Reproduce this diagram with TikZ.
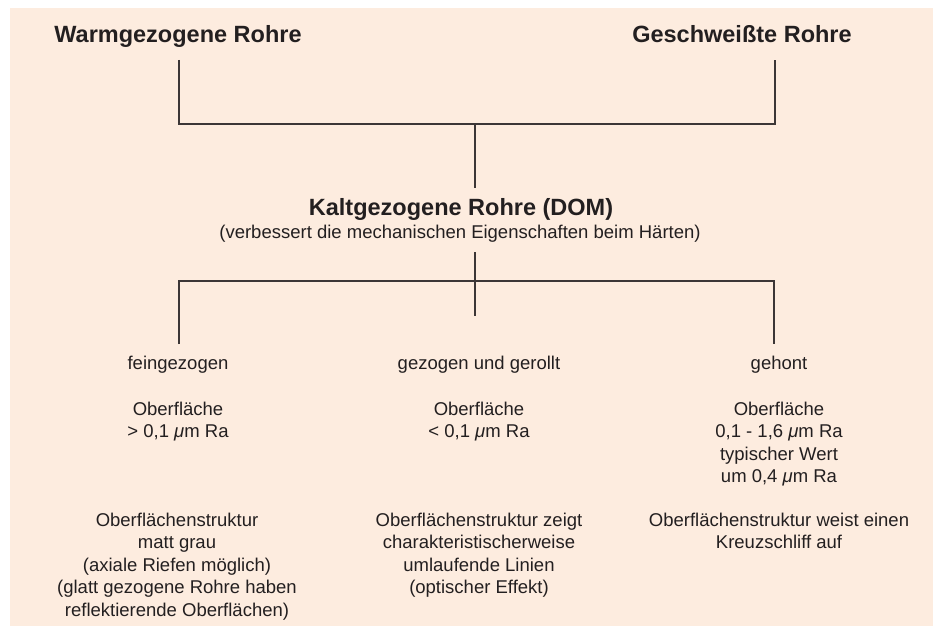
\documentclass[tikz,border=0pt]{standalone}
\usepackage{fontspec}
\setmainfont{Liberation Sans}
\definecolor{bgpeach}{RGB}{253,236,223}
\definecolor{inkc}{RGB}{35,31,32}
\definecolor{linec}{RGB}{60,54,54}
\begin{document}
\begin{tikzpicture}[x=1pt,y=1pt,
  title/.style={font=\fontsize{23.5}{28}\selectfont\bfseries, text=inkc, inner sep=0, anchor=base},
  label/.style={font=\fontsize{18.5}{22.5}\selectfont, text=inkc, inner sep=0, anchor=base},
  block/.style={font=\fontsize{18.5}{22.5}\selectfont, text=inkc, inner sep=0, anchor=north, align=center},
  conn/.style={draw=linec, line width=1.2pt}]
\useasboundingbox (0,0) rectangle (937,-626);
\fill[bgpeach] (10,-8) rectangle (933,-626);

\node[title] (warm) at (178,-43) {Warmgezogene Rohre};
\node[title] (gesch) at (742,-43) {Geschweißte Rohre};
\node[title] (kalt) at (461,-215) {Kaltgezogene Rohre (DOM)};
\node[label] (verb) at (460,-238) {(verbessert die mechanischen Eigenschaften beim Härten)};

\coordinate (wt) at (179,-60);
\coordinate (wb) at (179,-124);
\coordinate (gt) at (775,-60);
\coordinate (gb) at (775,-124);
\coordinate (mt) at (475,-124);
\coordinate (mb) at (475,-188);
\draw[conn] (wt) -- (wb) -- (gb) -- (gt);
\draw[conn] (mt) -- (mb);

\coordinate (ct) at (475,-252);
\coordinate (cb) at (475,-316);
\coordinate (lt) at (179,-281);
\coordinate (lb) at (179,-344);
\coordinate (rt) at (774,-281);
\coordinate (rb) at (774,-344);
\draw[conn] (ct) -- (cb);
\draw[conn] (lb) -- (lt) -- (rt) -- (rb);

\node[label] (fein) at (178,-369) {feingezogen};
\node[label] (gez) at (479,-369) {gezogen und gerollt};
\node[label] (gehont) at (779,-369) {gehont};

\node[block] (o1) at (178,-401.5) {Oberfläche\\> 0,1 \textit{μ}m Ra};
\node[block] (o2) at (479,-401.5) {Oberfläche\\< 0,1 \textit{μ}m Ra};
\node[block] (o3) at (779,-401.5) {Oberfläche\\0,1 - 1,6 \textit{μ}m Ra\\typischer Wert\\um 0,4 \textit{μ}m Ra};

\node[block] (s1) at (177,-512.5) {Oberflächenstruktur\\matt grau\\(axiale Riefen möglich)\\(glatt gezogene Rohre haben\\reflektierende Oberflächen)};
\node[block] (s2) at (479,-512.5) {Oberflächenstruktur zeigt\\charakteristischerweise\\umlaufende Linien\\(optischer Effekt)};
\node[block] (s3) at (779,-512.5) {Oberflächenstruktur weist einen\\Kreuzschliff auf};
\end{tikzpicture}
\end{document}
